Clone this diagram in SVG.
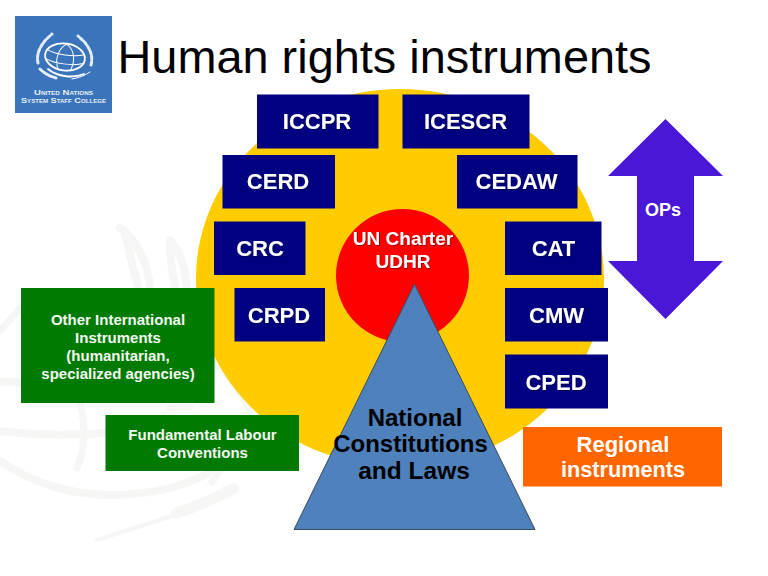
<svg xmlns="http://www.w3.org/2000/svg" width="768" height="576" viewBox="0 0 768 576">
<style>
text{font-family:"Liberation Sans",Arial,sans-serif;text-anchor:middle}
.nv{fill:#000080}
.gr{fill:#007a00}
.lb{font-weight:bold;fill:#fff;font-size:22px;filter:url(#sh)}
.sm{font-weight:bold;fill:#f4f9f4;font-size:15px}
.wm{fill:none;stroke:#f6f6f4;stroke-linecap:round}
.lg{fill:none;stroke:#fff;stroke-linecap:round}
.lf{fill:none;stroke:#e4ecf6;stroke-width:3;stroke-linecap:round;stroke-dasharray:3.500 2}
.lt{font-weight:bold;fill:#e8eef7;font-variant:small-caps}
</style>
<defs>
<filter id="sh" x="-10%" y="-20%" width="120%" height="140%"><feDropShadow dx="0.800" dy="0.800" stdDeviation="0.500" flood-color="#000" flood-opacity="0.500"/></filter>
</defs>
<rect width="768" height="576" fill="#fff"/>
<g id="watermark">
<path class="wm" stroke-width="8" d="M0 431C35 435 70 436 103 433M0 381L20 383M0 461C30 482 70 495 110 495C160 495 195 482 217 468"/>
<path class="wm" stroke-width="7" d="M20 308L0 331M80 405C86 425 85 450 77 468M217 361C230 378 242 395 250 411M220 470C216 476 214 480 212 482"/>
<path class="wm" stroke-width="8" d="M120 228C133 235 148 262 150 287M125 232C128 250 134 270 138 287M170 240C180 250 186 270 187 287M170 242C170 255 172 272 175 287"/>
<path class="wm" stroke-width="4" d="M97 540C125 531 150 523 175 515"/>
<path class="wm" stroke-width="11" d="M176 513C195 508 215 498 233 489"/>
<path class="wm" stroke-width="7" d="M170 408L190 407"/>
</g>
<g id="logo">
<rect x="15" y="16" width="97" height="97" fill="#3a74bb"/>
<g transform="rotate(8 65 57)">
<ellipse cx="65" cy="57" rx="20" ry="13.500" class="lg" stroke-width="1.800"/>
<path class="lg" stroke-width="1" d="M46 52C55 56 74 56 84 52M46 61C55 65 74 65 84 61M65 44C57 49 55 62 60 70M65 44C74 49 76 60 72 70"/>
</g>
<path class="lg" stroke-width="1.800" d="M48 69C56 76 72 79 84 74"/>
<path class="lf" d="M38 63C36 54 40 44 52 34M91 65C94 54 88 44 78 36M40 69C45 74 50 76 56 78"/>
<path class="lg" stroke-width="1" d="M72 79C78 78 84 76 90 72"/>
<text class="lt" x="63.500" y="95" font-size="7.500" textLength="59" lengthAdjust="spacingAndGlyphs">United Nations</text>
<text class="lt" x="63.500" y="102.500" font-size="7.500" textLength="85" lengthAdjust="spacingAndGlyphs">System Staff College</text>
</g>
<g id="title"><text x="384.500" y="73" font-size="46" fill="#000" textLength="534" lengthAdjust="spacingAndGlyphs">Human rights instruments</text></g>
<g id="yellow-circle"><ellipse cx="400" cy="278" rx="204" ry="189" fill="#ffcc00"/></g>
<g id="iccpr"><rect class="nv" x="257" y="94.500" width="121.500" height="54"/><text class="lb" x="317" y="129">ICCPR</text></g>
<g id="icescr"><rect class="nv" x="402.500" y="94.500" width="127" height="54"/><text class="lb" x="465.500" y="129">ICESCR</text></g>
<g id="cerd"><rect class="nv" x="222.500" y="155" width="112.500" height="53.500"/><text class="lb" x="278" y="189">CERD</text></g>
<g id="cedaw"><rect class="nv" x="457" y="155" width="120.500" height="53.500"/><text class="lb" x="516.500" y="189">CEDAW</text></g>
<g id="crc"><rect class="nv" x="214" y="221.500" width="91.500" height="53.500"/><text class="lb" x="260" y="256">CRC</text></g>
<g id="cat"><rect class="nv" x="505" y="221.500" width="96.500" height="53.500"/><text class="lb" x="553.500" y="256">CAT</text></g>
<g id="crpd"><rect class="nv" x="234.500" y="288" width="90.500" height="53.500"/><text class="lb" x="279" y="323">CRPD</text></g>
<g id="cmw"><rect class="nv" x="505" y="288" width="103" height="53.500"/><text class="lb" x="556.500" y="323">CMW</text></g>
<g id="cped"><rect class="nv" x="505" y="354.500" width="103" height="54"/><text class="lb" x="556" y="390">CPED</text></g>
<g id="un-charter"><circle cx="402.500" cy="275.500" r="66.500" fill="#ff0000"/>
<text x="403" y="244.500" font-size="19" font-weight="bold" fill="#fff" filter="url(#sh)">UN Charter</text>
<text x="403" y="268" font-size="19" font-weight="bold" fill="#fff" filter="url(#sh)">UDHR</text></g>
<g id="national"><path d="M414.500 284L535 529.500H294Z" fill="#4f81bd" stroke="#3b4a5a" stroke-width="1"/>
<text x="415" y="426" font-size="24" font-weight="bold" fill="#000">National</text>
<text x="410.500" y="452" font-size="24" font-weight="bold" fill="#000">Constitutions</text>
<text x="414" y="479" font-size="24.500" font-weight="bold" fill="#000">and Laws</text></g>
<g id="ops"><path d="M665.500 119L723 176H694V261H723L665.500 319L608 261H637V176H608Z" fill="#4a17d6"/>
<text x="663" y="216" font-size="18" font-weight="bold" fill="#fff">OPs</text></g>
<g id="other-instruments"><rect class="gr" x="21" y="288" width="193.500" height="115"/>
<text class="sm" x="118" y="324.500">Other International</text>
<text class="sm" x="118" y="342.500">Instruments</text>
<text class="sm" x="118" y="360.500">(humanitarian,</text>
<text class="sm" x="118" y="378.500">specialized agencies)</text></g>
<g id="labour"><rect class="gr" x="105.500" y="415" width="193.500" height="56"/>
<text class="sm" x="202.500" y="440">Fundamental Labour</text>
<text class="sm" x="202.500" y="458">Conventions</text></g>
<g id="regional"><rect x="523" y="427" width="199" height="59.500" fill="#ff6600"/>
<text x="623" y="452" font-size="22" font-weight="bold" fill="#fff">Regional</text>
<text x="623" y="477" font-size="21.700" font-weight="bold" fill="#fff">instruments</text></g>
<g id="connectors"></g>
</svg>
